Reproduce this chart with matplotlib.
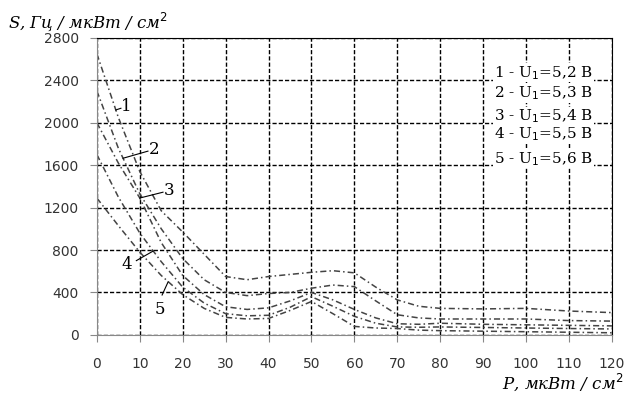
import matplotlib
matplotlib.use('Agg')
import matplotlib.pyplot as plt

# P, мкВт/см^2
p = [0, 5, 10, 15, 20, 25, 30, 35, 40, 45, 50, 55, 60, 65, 70, 75, 80, 90, 100, 110, 120]

s1 = [2650, 2050, 1540, 1170, 970, 760, 550, 520, 550, 570, 590, 605, 585, 450, 330, 270, 250, 245, 250, 225, 210]
s2 = [2300, 1760, 1330, 1000, 720, 520, 400, 370, 390, 400, 440, 470, 455, 320, 190, 160, 150, 150, 150, 135, 130]
s3 = [2000, 1620, 1290, 870, 560, 380, 265, 240, 255, 320, 400, 330, 240, 160, 105, 100, 110, 100, 95, 90, 85]
s4 = [1700, 1300, 960, 690, 450, 300, 200, 180, 185, 260, 360, 270, 175, 110, 75, 72, 75, 70, 65, 60, 56]
s5 = [1290, 1030, 780, 560, 380, 250, 165, 150, 155, 230, 315, 200, 80, 65, 60, 45, 40, 35, 30, 25, 20]
series = [s1, s2, s3, s4, s5]

legend_lines = ['1 - U$_1$=5,2 В', '2 - U$_1$=5,3 В', '3 - U$_1$=5,4 В',
                '4 - U$_1$=5,5 В', '5 - U$_1$=5,6 В']

# curve numbers: text position and leader line (from curve to text)
curve_nums = ['1', '2', '3', '4', '5']
num_pos = [(5.7, 2150), (12.2, 1750), (15.6, 1365), (5.8, 660), (13.5, 240)]
lead_x = [(4.4, 5.6), (6.1, 11.9), (10.0, 15.4), (13.1, 9.2), (16.6, 15.2)]
lead_y = [(2120, 2136), (1665, 1732), (1290, 1345), (790, 700), (500, 376)]

fig = plt.figure(figsize=(6.25, 3.94), dpi=100)
ax = fig.add_axes([0.155, 0.150, 0.824, 0.754])

for s in series:
    ax.plot(p, s, color='#444444', linestyle=(0, (4, 2, 1, 2)), linewidth=1.1)

for t, xy, lx, ly in zip(curve_nums, num_pos, lead_x, lead_y):
    ax.plot(lx, ly, color='black', linewidth=0.8)
    ax.text(xy[0], xy[1], t, fontsize=12, family='DejaVu Serif', ha='left', va='center')

ax.set_xlim(0, 120)
ax.set_ylim(0, 2800)
ax.set_xticks(range(0, 121, 10))
ax.set_yticks(range(0, 2801, 400))
ax.grid(True, color='black', linestyle=(0, (3, 1.5)), linewidth=1.0)
ax.tick_params(colors='#888888', labelcolor='#333333', labelsize=10, length=5, direction='out')
ax.tick_params(axis='x', pad=11)
ax.tick_params(axis='y', pad=8)
for side in ['left', 'bottom']:
    ax.spines[side].set_color('#888888')
for side in ['right', 'top']:
    ax.spines[side].set_color('black')

leg_y = [2470, 2280, 2060, 1890, 1660]
for t, y in zip(legend_lines, leg_y):
    ax.text(92.5, y, t, fontsize=11, family='DejaVu Serif', va='center', ha='left',
            bbox=dict(facecolor='white', edgecolor='none', pad=0.5))

fig.text(0.012, 0.975, 'S, Гц / мкВт / см$^2$', fontsize=12, family='DejaVu Serif',
         style='italic', va='top', ha='left')
fig.text(0.998, 0.03, 'P, мкВт / см$^2$', fontsize=12, family='DejaVu Serif',
         style='italic', va='center', ha='right')

plt.savefig('out.png', dpi=100)
